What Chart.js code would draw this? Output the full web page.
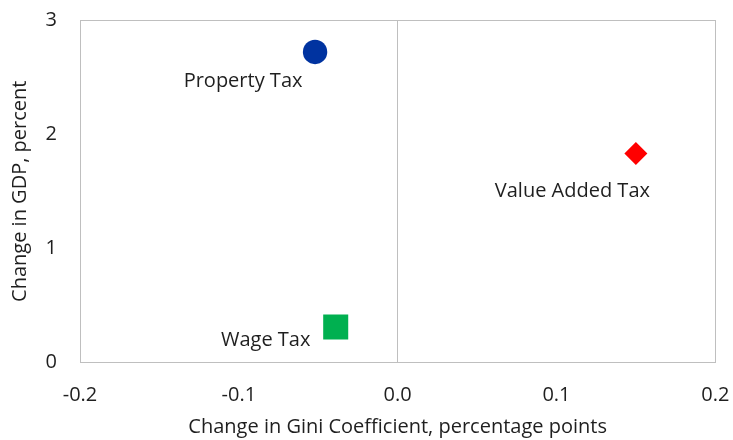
<!DOCTYPE html>
<html>
<head>
<meta charset="utf-8">
<script src="https://cdn.jsdelivr.net/npm/chart.js@4.4.1/dist/chart.umd.min.js"></script>
<style>
  html, body { margin: 0; padding: 0; background: #fff; }
  #wrap { width: 733px; height: 440px; }
</style>
</head>
<body>
<div id="wrap"><canvas id="chart" width="733" height="440"></canvas></div>
<script>
const taxNames = ["Property Tax", "Value Added Tax", "Wage Tax"];
const giniChange = [-0.052, 0.15, -0.039];
const gdpChange = [2.72, 1.83, 0.31];
const pointColors = ["#0033a0", "#ff0000", "#00b050"];
const pointShapes = ["circle", "rectRot", "rect"];
const pointSizes = [12.2, 11.5, 17.7];
const xTicks = [-0.2, -0.1, 0.0, 0.1, 0.2];
const yTicks = [0, 1, 2, 3];

const FONT = "'Open Sans', 'Noto Sans', sans-serif";
const TEXT = "#1f1f1f";
const FRAME = "#bfbfbf";

// where each name sits relative to its marker (baseline, centred)
const labelOffsets = [[-72, 35], [-63.5, 43], [-70, 18.5]];

const pointLabels = {
    id: "pointLabels",
    afterDatasetsDraw(chart) {
        const ctx = chart.ctx;
        ctx.save();
        ctx.font = "20px " + FONT;
        ctx.fillStyle = TEXT;
        ctx.textAlign = "center";
        ctx.textBaseline = "alphabetic";
        chart.data.datasets.forEach((ds, i) => {
            const pt = chart.getDatasetMeta(i).data[0];
            const off = labelOffsets[i];
            ctx.fillText(ds.label, pt.x + off[0], pt.y + off[1]);
        });
        ctx.restore();
    },
};

const datasets = taxNames.map((name, i) => ({
    label: name,
    data: [{ x: giniChange[i], y: gdpChange[i] }],
    pointStyle: pointShapes[i],
    pointRadius: pointSizes[i],
    backgroundColor: pointColors[i],
    borderColor: pointColors[i],
    borderWidth: 0,
}));

new Chart(document.getElementById("chart"), {
    type: "scatter",
    data: { datasets: datasets },
    options: {
        responsive: false,
        animation: false,
        layout: { padding: { top: 20, right: 16, left: 0, bottom: 0 } },
        plugins: {
            legend: { display: false },
            tooltip: { enabled: false },
        },
        scales: {
            x: {
                min: -0.2,
                max: 0.2,
                afterBuildTicks: (scale) => {
                    scale.ticks = xTicks.map((v) => ({ value: v }));
                },
                afterFit: (scale) => {
                    scale.height = 77.5;
                    scale.paddingLeft = 0;
                    scale.paddingRight = 0;
                },
                border: { display: false },
                grid: {
                    drawTicks: false,
                    lineWidth: 1,
                    // frame edges and the zero line only
                    color: (c) => (c.tick && (Math.abs(c.tick.value) < 1e-9 || Math.abs(c.tick.value) === 0.2) ? FRAME : "rgba(0,0,0,0)"),
                },
                ticks: {
                    padding: 21,
                    color: TEXT,
                    font: { family: FONT, size: 20 },
                    callback: (v) => Number(v).toFixed(1),
                },
                title: {
                    display: true,
                    text: "Change in Gini Coefficient, percentage points",
                    color: TEXT,
                    font: { family: FONT, size: 20 },
                    padding: { top: 0, bottom: 1 },
                },
            },
            y: {
                min: 0,
                max: 3,
                afterBuildTicks: (scale) => {
                    scale.ticks = yTicks.map((v) => ({ value: v }));
                },
                afterFit: (scale) => {
                    scale.width = 80;
                    scale.paddingTop = 0;
                    scale.paddingBottom = 0;
                },
                border: { display: false },
                grid: {
                    drawTicks: false,
                    lineWidth: 1,
                    color: (c) => (c.tick && (c.tick.value === 0 || c.tick.value === 3) ? FRAME : "rgba(0,0,0,0)"),
                },
                ticks: {
                    padding: 23,
                    color: TEXT,
                    font: { family: FONT, size: 20 },
                },
                title: {
                    display: true,
                    text: "Change in GDP, percent",
                    color: TEXT,
                    font: { family: FONT, size: 20 },
                    padding: { top: 8, bottom: 0 },
                },
            },
        },
    },
    plugins: [pointLabels],
});
</script>
</body>
</html>
